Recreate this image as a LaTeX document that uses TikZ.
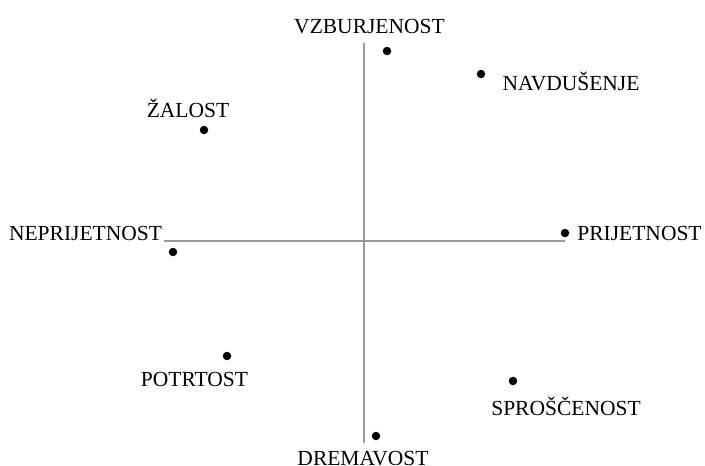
\documentclass[tikz,border=0pt]{standalone}
\usepackage{fontspec}
\setmainfont{Liberation Serif}
\begin{document}
\begin{tikzpicture}[x=1pt,y=-1pt,
  axis/.style={draw=black!40, line width=1.4pt},
  dot/.style={circle, fill=black, inner sep=0pt, minimum size=8.5pt},
  lbl/.style={inner sep=0pt, anchor=base, font=\fontsize{21.5}{25}\selectfont}]
\useasboundingbox (0,0) rectangle (705,466);
\coordinate (top) at (364,43);
\coordinate (bot) at (364,443);
\coordinate (left) at (164,241);
\coordinate (right) at (565,241);
\draw[axis] (top) -- (bot);
\draw[axis] (left) -- (right);
\node[dot] (d1) at (387,51) {};
\node[dot] (d2) at (481,74) {};
\node[dot] (d3) at (204,130) {};
\node[dot] (d4) at (173,252) {};
\node[dot] (d5) at (565,233) {};
\node[dot] (d6) at (227,356) {};
\node[dot] (d7) at (513,381) {};
\node[dot] (d8) at (376,436) {};
\node[lbl] (t1) at (369.5,33) {VZBURJENOST};
\node[lbl] (t2) at (571,90) {NAVDUŠENJE};
\node[lbl] (t3) at (188,117) {ŽALOST};
\node[lbl] (t4) at (85.5,240) {NEPRIJETNOST};
\node[lbl] (t5) at (639.5,240) {PRIJETNOST};
\node[lbl] (t6) at (194.5,386) {POTRTOST};
\node[lbl] (t7) at (566,415) {SPROŠČENOST};
\node[lbl] (t8) at (363,465) {DREMAVOST};
\end{tikzpicture}
\end{document}
